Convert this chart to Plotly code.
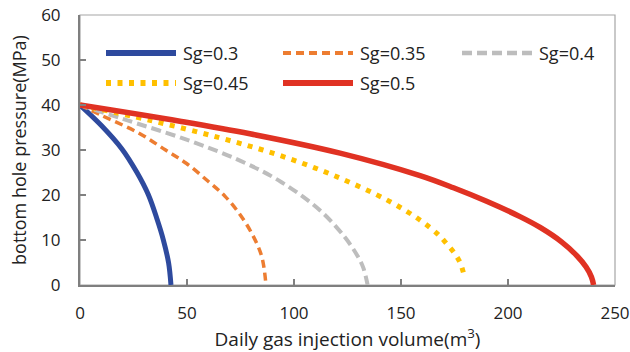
import plotly.graph_objects as go

# Data
sg_labels = ["Sg=0.3", "Sg=0.35", "Sg=0.4", "Sg=0.45", "Sg=0.5"]

q_03 = [0, 10.1, 19.5, 26.5, 31.9, 36.1, 38.9, 41.4, 42.5]
p_03 = [40, 35.4, 30.3, 25.1, 20.1, 14.5, 10.1, 4.9, 0]

q_035 = [0, 10, 27.3, 40, 49.8, 60, 67.8, 75, 81, 85, 86.9]
p_035 = [40, 37.7, 33.8, 30.0, 27.0, 23.0, 19.7, 15.5, 10.8, 6.2, 0]

q_04 = [0, 20, 49.8, 75, 94, 112.1, 123.8, 130, 132.4, 134.4]
p_04 = [40, 36.9, 32.3, 27.6, 22.9, 16.6, 10.6, 6.2, 3.8, 0]

q_045 = [0, 32.7, 65.4, 92.7, 118.8, 144.2, 158.7, 167.4, 171.3, 174.8, 177.6, 179.3]
p_045 = [40, 36.6, 32.7, 28.9, 24.3, 18.7, 14.5, 11.2, 9.2, 7.2, 5.0, 2.5]

q_05 = [0, 46.7, 79.4, 121.5, 158.9, 174.5, 190, 205.6, 215, 225, 232, 236.5, 239, 240]
p_05 = [40, 36.4, 33.6, 29.3, 24.3, 21.6, 18.6, 15.2, 12.8, 9.6, 6.6, 4.0, 1.8, 0]

x_ticks = [0, 50, 100, 150, 200, 250]
y_ticks = [0, 10, 20, 30, 40, 50, 60]

series = [
    (q_03, p_03, "#2E4A9E", 5, "solid"),
    (q_035, p_035, "#ED7D31", 3.5, "8px,5px"),
    (q_04, p_04, "#BDBDBD", 4, "10px,5px"),
    (q_045, p_045, "#FFC000", 5, "5px,6.5px"),
    (q_05, p_05, "#E03223", 5.5, "solid"),
]

FONT = "Open Sans"
fig = go.Figure()
for (q, p, c, w, d), name in zip(series, sg_labels):
    fig.add_trace(go.Scatter(x=q, y=p, mode="lines", name=name,
                             line=dict(color=c, width=w, dash=d, shape="spline", smoothing=1.0),
                             showlegend=False, hoverinfo="skip"))

# frame (top/right lighter border)
fig.add_shape(type="rect", xref="paper", yref="paper", x0=0, y0=0, x1=1, y1=1,
              line=dict(color="#A6A6A6", width=1.2), layer="below")

W, H = 630, 352
# plot area in page pixels: x 80..615, y 15..285
L, T, R, B = 80, 15, 15, 67
pw, ph = W - L - R, H - T - B

# custom legend (long line samples like the original), page pixels
legend_pos = [(106, 176, 53), (283, 353, 53), (462, 532, 53), (106, 176, 83), (283, 353, 83)]
leg_widths = [6, 4, 4.5, 6, 6]
for (x0, x1, y), (q, p, c, w, d), name, lw in zip(legend_pos, series, sg_labels, leg_widths):
    fx0 = (x0 - L) / pw
    fx1 = (x1 - L) / pw
    fy = 1 - (y - T) / ph
    fig.add_shape(type="line", xref="paper", yref="paper", x0=fx0, x1=fx1, y0=fy, y1=fy,
                  line=dict(color=c, width=lw, dash=d))
    fig.add_annotation(xref="paper", yref="paper", x=(x1 + 5 - L) / pw, y=fy,
                       text=name, showarrow=False, xanchor="left", yanchor="middle",
                       font=dict(family=FONT, size=18, color="#222222"))

fig.update_layout(
    width=W, height=H,
    margin=dict(l=L, r=R, t=T, b=B, autoexpand=False),
    paper_bgcolor="white", plot_bgcolor="white",
    font=dict(family=FONT, size=18, color="#222222"),
    showlegend=False,
)
fig.update_xaxes(range=[0, 250], tickvals=x_ticks, ticks="inside", ticklen=6,
                 tickcolor="#808080", tickwidth=1.5, showgrid=False, zeroline=False,
                 showline=True, linecolor="#7F7F7F", linewidth=2, automargin=False,
                 tickfont=dict(size=17), ticklabelstandoff=12, ticklabeloverflow="allow",
                 title=dict(text="Daily gas injection volume(m<sup>3</sup>)", standoff=4,
                            font=dict(size=19)))
fig.update_yaxes(range=[0, 60], tickvals=y_ticks, ticks="inside", ticklen=6,
                 tickcolor="#808080", tickwidth=1.5, showgrid=False, zeroline=False,
                 showline=True, linecolor="#7F7F7F", linewidth=2, automargin=False,
                 tickfont=dict(size=17), ticklabelstandoff=14, ticklabeloverflow="allow",
                 title=dict(text="bottom hole pressure(MPa)", standoff=10, font=dict(size=18)))

fig.write_html("out.html", config={"displayModeBar": False},
               post_script="document.body.style.margin='0';document.body.style.overflow='hidden';")
